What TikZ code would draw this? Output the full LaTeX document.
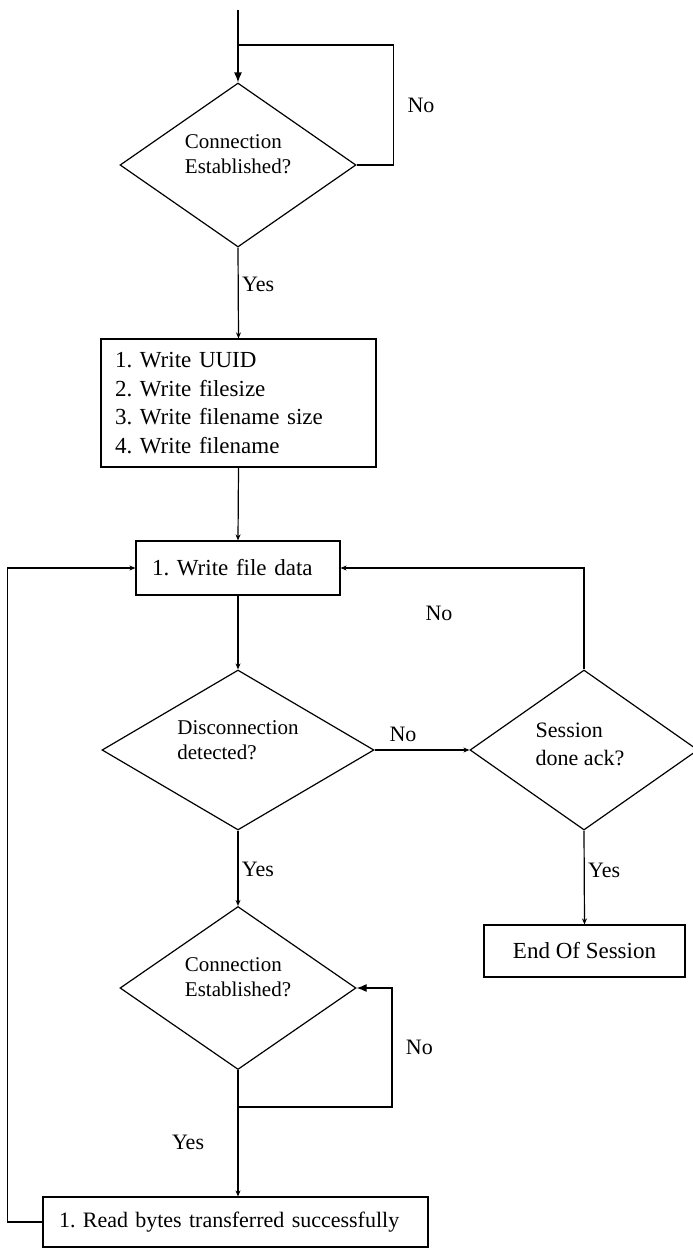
\documentclass[tikz,border=0pt]{standalone}
\usepackage{fontspec}
\setmainfont{Liberation Serif}
\usepackage{tikz}
\usetikzlibrary{shapes.geometric}
\usetikzlibrary{arrows.meta}
\frenchspacing

\tikzset{
    proc/.style={draw=black, line width=1.2pt, inner sep=0pt, font=\fontsize{23}{28.5}\selectfont},
    decision/.style={shape=diamond, draw=black, line width=1.2pt, inner sep=0pt},
    dtext/.style={align=left, font=\fontsize{21}{25}\selectfont},
    lbl/.style={font=\fontsize{22}{24}\selectfont},
    arr/.style={-{Stealth[length=6pt, width=5pt]}},
    arrbig/.style={-{Latex[length=10pt, width=8pt]}}}

\begin{document}
\begin{tikzpicture}[x=1pt, y=-1pt, line width=1.2pt]
                \useasboundingbox (0,0) rectangle (693,1248);

                    \coordinate (start) at (238,10);
                    \node[decision, minimum width=236, minimum height=164] (conn1) at (238,165) {};
                    \node[dtext] (conn1txt) at ([yshift=11pt]conn1.center) {Connection\\Established?};
                    \node[proc, minimum width=275, minimum height=128, inner xsep=14pt, text width=247pt, align=left] (init) at (238.5,403) {1. Write UUID\\2. Write filesize\\3. Write filename size\\4. Write filename};
                    \node[proc, minimum width=204, minimum height=54, inner xsep=16pt, text width=172pt, align=left] (write) at (238,568) {1. Write file data};
                    \node[decision, minimum width=272, minimum height=160] (disc) at (238,750) {};
                    \node[dtext] (disctxt) at ([yshift=10pt]disc.center) {Disconnection\\detected?};
                    \node[decision, minimum width=228, minimum height=160] (sess) at (584,750) {};
                    \node[dtext, font=\fontsize{22}{28}\selectfont] (sesstxt) at ([xshift=-4pt, yshift=6pt]sess.center) {Session\\done ack?};
                    \node[proc, minimum width=201, minimum height=52] (endsess) at (584.5,951) {End Of Session};
                    \node[decision, minimum width=236, minimum height=163] (conn2) at (238,988) {};
                    \node[dtext] (conn2txt) at ([yshift=11pt]conn2.center) {Connection\\Established?};
                    \coordinate (c2bot) at (238,1107);
                    \node[proc, font=\fontsize{22}{26}\selectfont, minimum width=385, minimum height=50, inner xsep=16pt, text width=353pt, align=left] (read) at (235.5,1222) {1. Read bytes transferred successfully};
                    \node[lbl] (nosess) at (439,613) {No};

                    \draw[arrbig] (start) -- (conn1.north);
                    \draw (conn1.east) -- ++(37,0) |- node[lbl, pos=0.25, right=10pt] {No} (start |- 0,45);
                    \draw[arr] (conn1.south) -- node[lbl, pos=0.41, right] {Yes} (init.north);
                    \draw[arr] (init.south) -- (write.north);
                    \draw[arr] (write.south) -- (disc.north);
                    \draw[arr] (disc.east) -- node[lbl, pos=0.3, above=4pt] {No} (sess.west);
                    \draw[arr] (sess.north) |- (write.east);
                    \draw[arr] (sess.south) -- node[lbl, pos=0.42, right] {Yes} (endsess.north);
                    \draw[arr] (disc.south) -- node[lbl, pos=0.52, right] {Yes} (conn2.north);
                    \draw (conn2.south) -- (c2bot);
                    \draw[arrbig] (c2bot) -- ++(154,0) |- node[lbl, pos=0.25, right=10pt] {No} (conn2.east);
                    \draw[arr] (c2bot) -- node[lbl, pos=0.4, left=30pt] {Yes} (c2bot |- read.north);
                    \draw[arr] (read.west) -- ++(-35,0) |- (write.west);

                \end{tikzpicture}
\end{document}
